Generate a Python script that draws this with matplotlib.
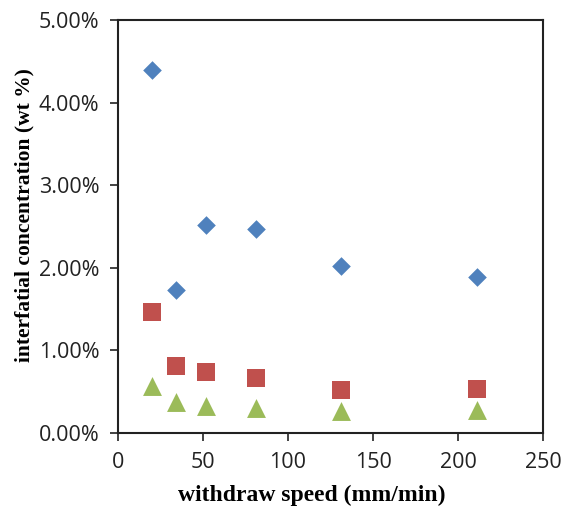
import matplotlib
matplotlib.use("Agg")
import matplotlib.pyplot as plt
from matplotlib.ticker import FuncFormatter

speed = [20, 34, 52, 81, 131, 211]
series_a = [4.40, 1.73, 2.52, 2.47, 2.02, 1.89]
series_b = [1.46, 0.81, 0.74, 0.67, 0.52, 0.53]
series_c = [0.57, 0.38, 0.33, 0.30, 0.27, 0.28]
x_ticks = [0, 50, 100, 150, 200, 250]
y_ticks = [0, 1, 2, 3, 4, 5]

fig = plt.figure(figsize=(5.63, 5.17), dpi=100)
ax = fig.add_axes([118/563, 1-433/517, (543-118)/563, (433-20)/517])

ax.scatter(speed, series_a, marker='D', s=90, color='#4F81BD', zorder=3, linewidths=0)
ax.scatter(speed, series_b, marker='s', s=165, color='#C0504D', zorder=3, linewidths=0)
ax.scatter(speed, series_c, marker='^', s=185, color='#9BBB59', zorder=3, linewidths=0)

ax.set_xlim(0, 250)
ax.set_ylim(0, 5)
ax.set_xticks(x_ticks)
ax.set_yticks(y_ticks)
ax.yaxis.set_major_formatter(FuncFormatter(lambda v, p: f"{v:.2f}%"))
ax.tick_params(direction='out', length=5.5, width=1.2, labelsize=15.5, colors='#222222', pad=8)
for lab in ax.get_xticklabels() + ax.get_yticklabels():
    lab.set_fontfamily('Open Sans')
for sp in ax.spines.values():
    sp.set_linewidth(1.5)
    sp.set_color('#222222')

ax.set_xlabel('withdraw speed (mm/min)', fontfamily='Liberation Serif', fontweight='bold', fontsize=17, labelpad=9)
ax.set_ylabel('interfatial concentration (wt %)', fontfamily='Liberation Serif', fontweight='bold', fontsize=15.5, labelpad=3)
ax.xaxis.label.set_x(0.456)
ax.yaxis.label.set_y(0.528)

fig.savefig('out.png', dpi=100, facecolor='white')
